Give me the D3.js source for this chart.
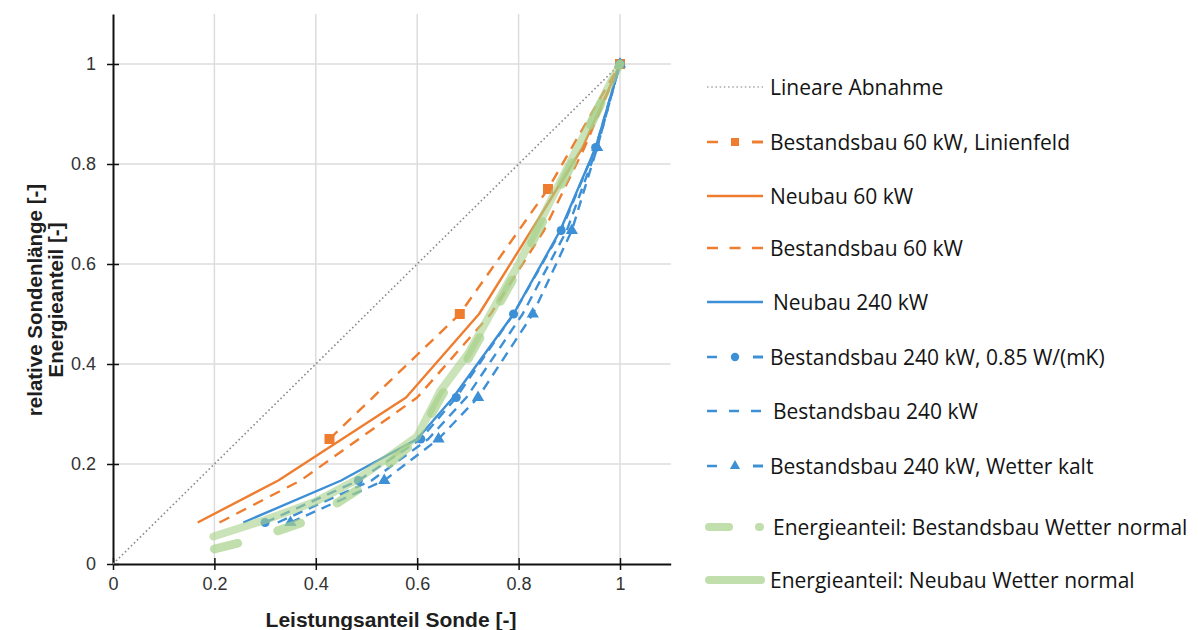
<!DOCTYPE html>
<html><head><meta charset="utf-8">
<script src="https://cdn.jsdelivr.net/npm/d3@7"></script>
<style>
html,body{margin:0;padding:0;background:#fff;}
svg{display:block;}
</style></head>
<body>
<svg id="chart" width="1198" height="630"></svg>
<script>
// ---------- data ----------
const xTicks = [0, 0.2, 0.4, 0.6, 0.8, 1];
const yTicks = [0, 0.2, 0.4, 0.6, 0.8, 1];
const xTickLabels = ["0", "0.2", "0.4", "0.6", "0.8", "1"];
const yTickLabels = ["0", "0.2", "0.4", "0.6", "0.8", "1"];

const linearX = [0, 1];
const linearY = [0, 1];

const linienfeldX = [0.427, 0.684, 0.858, 1];
const linienfeldY = [0.25, 0.5, 0.75, 1];

const neubau60X = [0.167, 0.326, 0.578, 0.722, 0.825, 0.926, 1];
const neubau60Y = [0.083, 0.167, 0.333, 0.5, 0.667, 0.833, 1];

const bestand60X = [0.21, 0.37, 0.6, 0.745, 0.85, 0.93, 1];
const bestand60Y = [0.083, 0.167, 0.333, 0.5, 0.667, 0.833, 1];

const neubau240X = [0.257, 0.45, 0.6, 0.671, 0.79, 0.882, 0.952, 1];
const neubau240Y = [0.083, 0.167, 0.25, 0.333, 0.5, 0.667, 0.833, 1];

const bestand240_085X = [0.30, 0.484, 0.607, 0.677, 0.79, 0.884, 0.952, 1];
const bestand240_085Y = [0.083, 0.167, 0.25, 0.333, 0.5, 0.667, 0.833, 1];

const bestand240X = [0.325, 0.51, 0.622, 0.697, 0.808, 0.895, 0.955, 1];
const bestand240Y = [0.083, 0.167, 0.25, 0.333, 0.5, 0.667, 0.833, 1];

const bestand240KaltX = [0.35, 0.535, 0.642, 0.72, 0.828, 0.905, 0.955, 1];
const bestand240KaltY = [0.083, 0.167, 0.25, 0.333, 0.5, 0.667, 0.833, 1];

const energieBestandX = [0.2, 0.26, 0.33, 0.395, 0.5, 0.6, 0.65, 0.7, 0.8, 0.9, 1];
const energieBestandY = [0.03, 0.045, 0.068, 0.091, 0.16, 0.25, 0.34, 0.41, 0.59, 0.79, 1];

const energieNeubauX = [0.198, 0.30, 0.40, 0.48, 0.6, 0.645, 0.70, 0.80, 0.90, 1];
const energieNeubauY = [0.055, 0.088, 0.125, 0.168, 0.255, 0.345, 0.42, 0.6, 0.8, 1];

const legendLabels = [
  "Lineare Abnahme",
  "Bestandsbau 60 kW, Linienfeld",
  "Neubau 60 kW",
  "Bestandsbau 60 kW",
  "Neubau 240 kW",
  "Bestandsbau 240 kW, 0.85 W/(mK)",
  "Bestandsbau 240 kW",
  "Bestandsbau 240 kW, Wetter kalt",
  "Energieanteil: Bestandsbau Wetter normal",
  "Energieanteil: Neubau Wetter normal"
];

// ---------- styles ----------
const ORANGE = "#ee7d2f";
const BLUE = "#3d8fd6";
const GREEN = "#a6d08a";
const GRAY = "#8a8a8a";

const svg = d3.select("#chart");
const x = d3.scaleLinear().domain([0, 1.1]).range([113, 670.7]);
const y = d3.scaleLinear().domain([0, 1.1]).range([564, 14]);

// grid
const grid = svg.append("g");
grid.selectAll("line.v").data(xTicks.filter(d => d > 0)).join("line")
  .attr("x1", d => x(d)).attr("x2", d => x(d)).attr("y1", y(0)).attr("y2", y(1.1))
  .attr("stroke", "#dcdcdc").attr("stroke-width", 1.5);
grid.selectAll("line.h").data(yTicks.filter(d => d > 0)).join("line")
  .attr("x1", x(0)).attr("x2", x(1.1)).attr("y1", d => y(d)).attr("y2", d => y(d))
  .attr("stroke", "#dcdcdc").attr("stroke-width", 1.5);

// axes
const xAxis = d3.axisBottom(x).tickValues(xTicks).tickFormat((d, i) => xTickLabels[i]).tickSizeInner(6).tickSizeOuter(0).tickPadding(9);
const yAxis = d3.axisLeft(y).tickValues(yTicks).tickFormat((d, i) => yTickLabels[i]).tickSizeInner(6).tickSizeOuter(0).tickPadding(11);

const gx = svg.append("g").attr("transform", `translate(0,${y(0)})`).call(xAxis);
const gy = svg.append("g").attr("transform", `translate(${x(0)},0)`).call(yAxis);
[gx, gy].forEach(g => {
  g.select(".domain").attr("stroke", "#111").attr("stroke-width", 2);
  g.selectAll(".tick line").attr("stroke", "#111").attr("stroke-width", 1.5);
  g.selectAll(".tick text").attr("font-family", "Liberation Sans, Arial, sans-serif")
    .attr("font-size", 18).attr("fill", "#333");
});
// ticks crossing the axis
gx.selectAll(".tick line").attr("y1", -6).attr("y2", 6);
gy.selectAll(".tick line").attr("x1", -6).attr("x2", 6);
gx.selectAll(".tick text").attr("dy", "0.71em").attr("y", 13);

// axis titles
svg.append("text").attr("x", 391).attr("y", 627).attr("text-anchor", "middle")
  .attr("font-family", "Liberation Sans, Arial, sans-serif").attr("font-weight", "bold")
  .attr("font-size", 21).attr("fill", "#1e1e1e").text("Leistungsanteil Sonde [-]");
const yt = svg.append("text").attr("transform", "translate(42,300) rotate(-90)")
  .attr("text-anchor", "middle").attr("font-family", "Liberation Sans, Arial, sans-serif")
  .attr("font-weight", "bold").attr("font-size", 20.5).attr("fill", "#1e1e1e");
yt.append("tspan").attr("x", 0).attr("dy", 0).text("relative Sondenlänge [-]");
yt.append("tspan").attr("x", 0).attr("dy", 21).text("Energieanteil [-]");

// ---------- series ----------
const line = d3.line().x(d => x(d[0])).y(d => y(d[1]));
const zip = (xs, ys) => xs.map((v, i) => [v, ys[i]]);
const plot = svg.append("g");

function drawLine(xs, ys, color, width, dash, opacity, cap) {
  plot.append("path").datum(zip(xs, ys)).attr("d", line)
    .attr("fill", "none").attr("stroke", color).attr("stroke-width", width)
    .attr("stroke-dasharray", dash || null).attr("stroke-opacity", opacity || 1)
    .attr("stroke-linecap", cap || "butt").attr("stroke-linejoin", "round");
}
function drawMarkers(xs, ys, type, size, color) {
  plot.append("g").selectAll("path").data(zip(xs, ys)).join("path")
    .attr("transform", d => `translate(${x(d[0])},${y(d[1])})`)
    .attr("d", d3.symbol().type(type).size(size)).attr("fill", color);
}

// linear
drawLine(linearX, linearY, GRAY, 1.6, "1.6,2.6", 1, "butt");
// orange
drawLine(bestand60X, bestand60Y, ORANGE, 2.4, "11,8");
drawLine(linienfeldX, linienfeldY, ORANGE, 2.4, "11,8");
drawMarkers(linienfeldX, linienfeldY, d3.symbolSquare, 100, ORANGE);
drawLine(neubau60X, neubau60Y, ORANGE, 2.4);
// blue
drawLine(bestand240KaltX, bestand240KaltY, BLUE, 2.4, "10,7");
drawMarkers(bestand240KaltX, bestand240KaltY, d3.symbolTriangle, 65, BLUE);
drawLine(bestand240X, bestand240Y, BLUE, 2.4, "10,7");
drawLine(bestand240_085X, bestand240_085Y, BLUE, 2.4, "10,7");
drawMarkers(bestand240_085X, bestand240_085Y, d3.symbolCircle, 65, BLUE);
drawLine(neubau240X, neubau240Y, BLUE, 2.4);
// green (semi transparent, on top)
drawLine(energieNeubauX, energieNeubauY, GREEN, 8, null, 0.6, "round");
drawLine(energieBestandX, energieBestandY, GREEN, 9, "24,42", 0.7, "round");

// ---------- legend ----------
const legendY = [87, 142, 196, 248, 302, 357, 411, 466, 527, 580];
const legend = svg.append("g");
const lx0 = 707, lx1 = 763;
function legLine(yy, color, width, dash, opacity, cap, x0, x1) {
  legend.append("line").attr("x1", x0 ?? lx0).attr("x2", x1 ?? lx1).attr("y1", yy).attr("y2", yy)
    .attr("stroke", color).attr("stroke-width", width).attr("stroke-dasharray", dash || null)
    .attr("stroke-opacity", opacity || 1).attr("stroke-linecap", cap || "butt");
}
function legMark(yy, type, size, color) {
  legend.append("path").attr("transform", `translate(${(lx0 + lx1) / 2},${yy})`)
    .attr("d", d3.symbol().type(type).size(size)).attr("fill", color);
}
legLine(legendY[0], "#aaa", 1.6, "1.6,2.6");
legLine(legendY[1], ORANGE, 2.6, "11,34"); legLine(legendY[1], ORANGE, 2.6, null, 1, "butt", 752, 763);
legMark(legendY[1], d3.symbolSquare, 64, ORANGE);
legLine(legendY[2], ORANGE, 2.6);
legLine(legendY[3], ORANGE, 2.6, "11,11.5");
legLine(legendY[4], BLUE, 2.6);
legLine(legendY[5], BLUE, 2.6, "10,36"); legLine(legendY[5], BLUE, 2.6, null, 1, "butt", 753, 763);
legMark(legendY[5], d3.symbolCircle, 55, BLUE);
legLine(legendY[6], BLUE, 2.6, "10,12");
legLine(legendY[7], BLUE, 2.6, "10,36"); legLine(legendY[7], BLUE, 2.6, null, 1, "butt", 753, 763);
legMark(legendY[7], d3.symbolTriangle, 45, BLUE);
legLine(legendY[8], GREEN, 8, null, 0.7, "round", 709, 729);
legLine(legendY[8], GREEN, 8, null, 0.7, "round", 759, 760);
legLine(legendY[9], GREEN, 8, null, 0.7, "round", 709, 761);

legend.selectAll("text").data(legendLabels).join("text")
  .attr("x", (d, i) => (i === 4 || i === 6 || i === 8) ? 773 : 770)
  .attr("y", (d, i) => legendY[i]).attr("dy", "0.36em")
  .attr("font-family", "Open Sans, Noto Sans, sans-serif").attr("font-size", 21)
  .attr("fill", "#141414").text(d => d);
</script>
</body></html>
